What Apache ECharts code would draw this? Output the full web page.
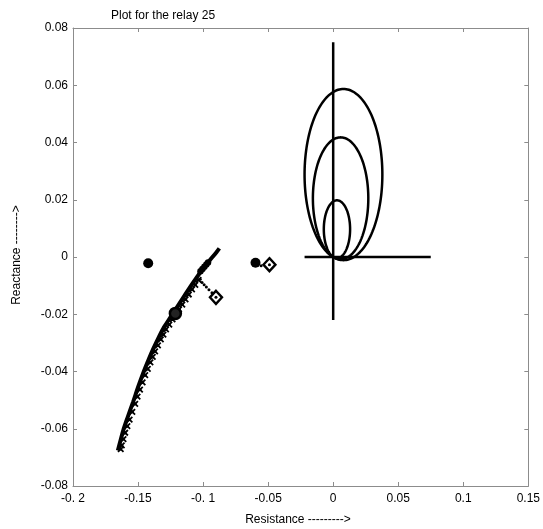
<!DOCTYPE html>
<html>
<head>
<meta charset="utf-8">
<script src="https://cdn.jsdelivr.net/npm/echarts@6/dist/echarts.min.js"></script>
<style>html,body{margin:0;padding:0;background:#fff;}#c{width:543px;height:529px;}</style>
</head>
<body>
<div id="c"></div>
<script>
// ---- data ----
var xTickLabels = ['-0. 2','-0.15','-0. 1','-0.05','0','0.05','0.1','0.15'];
var yTickLabels = ['-0.08','-0.06','-0.04','-0.02','0','0.02','0.04','0.06','0.08'];

// zone cross-hair lines (R, X)
var vertLine = [[0, -0.022], [0, 0.075]];
var horizLine = [[-0.022, 0], [0.075, 0]];

// mho circles: [centreR, centreX, radius]
var mhoCircles = [
  [0.0079, 0.0288, 0.0299],
  [0.0057, 0.0205, 0.0213],
  [0.0029, 0.0097, 0.0101]
];

// impedance trajectory (main trace)
var trajMain = [
  [-0.1655,-0.0676],[-0.1640,-0.0650],[-0.1614,-0.0606],[-0.1580,-0.0560],
  [-0.1537,-0.0505],[-0.1500,-0.0455],[-0.1460,-0.0405],[-0.1420,-0.0360],
  [-0.1384,-0.0322],[-0.1340,-0.0280],[-0.1300,-0.0245],[-0.1250,-0.0210],
  [-0.1200,-0.0175],[-0.1150,-0.0140],[-0.1100,-0.0105],[-0.1050,-0.0072],
  [-0.1000,-0.0040],[-0.0950,-0.0012],[-0.0900,0.0015],[-0.0875,0.0030]
];
// trajectory sample markers
var trajMarks = [
  [-0.1633,-0.0671],[-0.1625,-0.0658],[-0.1612,-0.0636],[-0.1599,-0.0614],
  [-0.1582,-0.0591],[-0.1565,-0.0568],[-0.1544,-0.0541],[-0.1522,-0.0513],
  [-0.1504,-0.0488],[-0.1485,-0.0463],[-0.1465,-0.0438],[-0.1445,-0.0413],
  [-0.1425,-0.0391],[-0.1405,-0.0368],[-0.1387,-0.0349],[-0.1369,-0.0330],
  [-0.1347,-0.0309],[-0.1325,-0.0288],[-0.1305,-0.0271],[-0.1285,-0.0253],
  [-0.1260,-0.0236],[-0.1235,-0.0218],[-0.1210,-0.0201],[-0.1185,-0.0183],
  [-0.1160,-0.0166],[-0.1135,-0.0148],[-0.1110,-0.0131],[-0.1085,-0.0113],
  [-0.1060,-0.0097],[-0.1035,-0.0080]
];
var trajBlob = [[-0.1020,-0.0050],[-0.1005,-0.0042],[-0.0990,-0.0034],[-0.0975,-0.0026],[-0.0962,-0.0019]];
var dottedPath = [[-0.1035,-0.0062],[-0.1022,-0.0078],[-0.1008,-0.0089],[-0.0992,-0.0097],[-0.0975,-0.0105],[-0.0955,-0.0114],[-0.0932,-0.0125],[-0.0554,-0.0031]];
var filledPts = [[-0.1422,-0.0022],[-0.0597,-0.0020]];
var ringPts = [[-0.1213,-0.0197]];
var diamondPts = [[-0.0901,-0.0141],[-0.0490,-0.0027]];

// ---- chart ----
var chart = echarts.init(document.getElementById('c'), null, {renderer:'canvas'});
var FONT = "'Liberation Sans', Arial, Helvetica, sans-serif";
var frame = '#8c8c8c';

function axisBase(extra) {
  var a = {
    type:'value',
    axisLine:{show:true, onZero:false, lineStyle:{color:frame, width:1}},
    axisTick:{show:true, inside:true, length:4, lineStyle:{color:frame}},
    splitLine:{show:false}
  };
  for (var k in extra) a[k] = extra[k];
  return a;
}
function dot(data, sym, size, style, z) {
  style.opacity = 1;
  return {type:'scatter', data:data, symbol:sym, symbolSize:size, itemStyle:style, z:z};
}

var option = {
  animation:false,
  backgroundColor:'#fff',
  title:{text:'Plot for the relay 25', left:106, top:5,
    textStyle:{fontFamily:FONT, fontSize:12, fontWeight:'normal', color:'#000'}},
  grid:{left:73, right:13, top:28, bottom:43, containLabel:false},
  xAxis:[
    axisBase({min:-0.2, max:0.15, interval:0.05, position:'bottom',
      axisLabel:{margin:7, color:'#000', fontFamily:FONT, fontSize:12,
        formatter:function(v){return xTickLabels[Math.round((v+0.2)/0.05)];}}}),
    axisBase({min:-0.2, max:0.15, interval:0.05, position:'top', axisLabel:{show:false}})
  ],
  yAxis:[
    axisBase({min:-0.08, max:0.08, interval:0.02, position:'left',
      axisLabel:{margin:5, color:'#000', fontFamily:FONT, fontSize:12,
        formatter:function(v){return yTickLabels[Math.round((v+0.08)/0.02)];}}}),
    axisBase({min:-0.08, max:0.08, interval:0.02, position:'right', axisLabel:{show:false}})
  ],
  graphic:[
    {type:'text', x:17, y:255, rotation:Math.PI/2,
      style:{text:'Reactance -------->', fontFamily:FONT, fontSize:12, fill:'#000', textAlign:'center', textVerticalAlign:'middle'}},
    {type:'text', x:298, y:520,
      style:{text:'Resistance --------->', fontFamily:FONT, fontSize:12, fill:'#000', textAlign:'center', textVerticalAlign:'middle'}}
  ],
  series:[
    {type:'line', data:vertLine, symbol:'none', lineStyle:{color:'#000', width:2.5}, z:3},
    {type:'line', data:horizLine, symbol:'none', lineStyle:{color:'#000', width:2.5}, z:3},
    {type:'custom', data:mhoCircles, z:3,
      renderItem:function(params, api){
        var cr = api.value(0), cx = api.value(1), r = api.value(2);
        var pts = [];
        for (var i = 0; i <= 180; i++) {
          var t = i / 180 * Math.PI * 2;
          pts.push(api.coord([cr + r*Math.cos(t), cx + r*Math.sin(t)]));
        }
        return {type:'polyline', shape:{points:pts}, style:{stroke:'#000', lineWidth:2.5, fill:null}};
      }},
    {type:'line', data:trajMain, symbol:'none', smooth:0.3, lineStyle:{color:'#000', width:4}, z:4},
    dot(trajMarks, 'path://M0,0L10,10M10,0L0,10', 5.5, {color:'none', borderColor:'#000', borderWidth:1.8}, 4),
    dot(trajMarks, 'circle', 3, {color:'#000'}, 4),
    dot(trajBlob, 'circle', 6.5, {color:'#000'}, 4),
    dot(dottedPath, 'circle', 3, {color:'#000'}, 4),
    dot(filledPts, 'circle', 10, {color:'#000'}, 5),
    dot(ringPts, 'circle', 11, {color:'#222', borderColor:'#000', borderWidth:2.5}, 5),
    dot(diamondPts, 'diamond', [12,13], {color:'#fff', borderColor:'#000', borderWidth:2.4}, 5),
    dot(diamondPts, 'circle', 3, {color:'#000'}, 6)
  ]
};
chart.setOption(option);
</script>
</body>
</html>
